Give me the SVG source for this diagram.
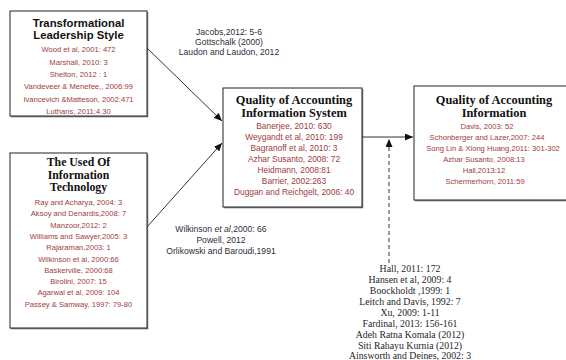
<svg xmlns="http://www.w3.org/2000/svg" width="566" height="360" viewBox="0 0 566 360">
<style>
.box{fill:#fff;stroke:#222;stroke-width:1}
.sh{fill:none;stroke:#555;stroke-width:1.2}
.ts{font-family:"Liberation Sans",Arial,sans-serif;font-weight:bold;font-size:11.3px;fill:#111;text-anchor:middle}
.tt{font-family:"Liberation Serif","Times New Roman",serif;font-weight:bold;font-size:12.4px;fill:#111;text-anchor:middle}
.t2{font-family:"Liberation Serif","Times New Roman",serif;font-weight:bold;font-size:11.8px;fill:#111;text-anchor:middle}
.r{font-family:"Liberation Sans",Arial,sans-serif;font-size:7.6px;fill:#9e3b3b;text-anchor:middle}
.r2{font-family:"Liberation Sans",Arial,sans-serif;font-size:8.4px;fill:#9e3b3b;text-anchor:middle}
.k{font-family:"Liberation Sans",Arial,sans-serif;font-size:8.6px;fill:#2e2e3a;text-anchor:middle}
.s{font-family:"Liberation Serif","Times New Roman",serif;font-size:9.8px;fill:#1e1e2a;text-anchor:middle}
.c{stroke:#333;stroke-width:1;fill:none}
</style>
<defs>
<marker id="ah" markerUnits="userSpaceOnUse" markerWidth="9" markerHeight="7" refX="8" refY="3.5" orient="auto">
<path d="M0,0 L8,3.5 L0,7 z" fill="#111"/>
</marker>
</defs>
<g id="n1">
<rect class="box" x="10" y="11" width="137" height="105"/>
<path class="sh" d="M11,116.6 H147.6 V12"/>
<text class="ts" x="78.5" y="27">Transformational</text>
<text class="ts" x="78.5" y="39">Leadership Style</text>
<text class="r" x="78.5" y="52">Wood et al, 2001: 472</text>
<text class="r" x="78.5" y="64.5">Marshall, 2010: 3</text>
<text class="r" x="78.5" y="77">Shelton, 2012 : 1</text>
<text class="r" x="78.5" y="89">Vandeveer &amp; Menefee,, 2006:99</text>
<text class="r" x="78.5" y="101.5">Ivancevich  &amp;Matteson, 2002:471</text>
<text class="r" x="78.5" y="113.5">Luthans, 2011:4 30</text>
</g>
<g id="n2">
<rect class="box" x="10" y="153" width="137" height="175"/>
<path class="sh" d="M11,328.6 H147.6 V154"/>
<text class="t2" x="78.5" y="166">The Used Of</text>
<text class="t2" x="78.5" y="178.5">Information</text>
<text class="t2" x="78.5" y="190.5">Technology</text>
<text class="r" x="78.5" y="205">Ray and Acharya, 2004: 3</text>
<text class="r" x="78.5" y="216.3">Aksoy and Denardis,2008: 7</text>
<text class="r" x="78.5" y="227.6">Manzoor,2012: 2</text>
<text class="r" x="78.5" y="238.9">Williams and Sawyer,2005: 3</text>
<text class="r" x="78.5" y="250.2">Rajaraman,2003: 1</text>
<text class="r" x="78.5" y="261.5">Wilkinson et al, 2000:66</text>
<text class="r" x="78.5" y="272.8">Baskerville, 2000:68</text>
<text class="r" x="78.5" y="284.1">Birolini, 2007: 15</text>
<text class="r" x="78.5" y="295.4">Agarwal et al, 2009: 104</text>
<text class="r" x="78.5" y="306.7">Passey &amp; Samway, 1997: 79-80</text>
</g>
<g id="n3">
<rect class="box" x="223" y="88" width="139" height="119"/>
<path class="sh" d="M224,207.6 H362.6 V89"/>
<text class="tt" x="294" y="104">Quality of Accounting</text>
<text class="tt" x="294" y="117">Information System</text>
<text class="r2" x="294" y="129">Banerjee, 2010: 630</text>
<text class="r2" x="294" y="140">Weygandt et al, 2010: 199</text>
<text class="r2" x="294" y="151">Bagranoff et al, 2010: 3</text>
<text class="r2" x="294" y="162">Azhar Susanto, 2008: 72</text>
<text class="r2" x="294" y="173">Heidmann, 2008:81</text>
<text class="r2" x="294" y="184">Barrier, 2002:263</text>
<text class="r2" x="294" y="195">Duggan and Reichgelt, 2006: 40</text>
</g>
<g id="n4">
<rect class="box" x="414" y="86" width="160" height="114"/>
<path class="sh" d="M415,200.6 H575"/>
<text class="tt" x="494" y="104">Quality of Accounting</text>
<text class="tt" x="494" y="117">Information</text>
<text class="r" x="487" y="129">Davis, 2003: 52</text>
<text class="r" x="487" y="140">Schonberger and Lazer,2007: 244</text>
<text class="r" x="493" y="151">Song Lin &amp; Xiong Huang,2011: 301-302</text>
<text class="r" x="484" y="162">Azhar Susanto, 2008:13</text>
<text class="r" x="484" y="173">Hall,2013:12</text>
<text class="r" x="485" y="184">Schermerhorn, 2011:59</text>
</g>
<g id="connectors">
<line class="c" x1="147" y1="48" x2="222" y2="121" marker-end="url(#ah)"/>
<line class="c" x1="147" y1="227" x2="222" y2="143" marker-end="url(#ah)"/>
<line class="c" x1="362" y1="137" x2="413" y2="137" marker-end="url(#ah)"/>
<line class="c" x1="389" y1="263" x2="389" y2="139" stroke-dasharray="4,3" marker-end="url(#ah)"/>
</g>
<g id="labels">
<text class="k" x="229" y="35">Jacobs,2012: 5-6</text>
<text class="k" x="229" y="45">Gottschalk (2000)</text>
<text class="k" x="229" y="55">Laudon and Laudon, 2012</text>
<text class="k" x="221" y="232">Wilkinson <tspan font-style="italic">et al</tspan>,2000: 66</text>
<text class="k" x="221" y="243">Powell, 2012</text>
<text class="k" x="221" y="254">Orlikowski and Baroudi,1991</text>
<text class="s" x="410" y="271.5">Hall, 2011: 172</text>
<text class="s" x="410" y="282.5">Hansen et al, 2009: 4</text>
<text class="s" x="410" y="293.5">Boockholdt ,1999: 1</text>
<text class="s" x="410" y="304.5">Leitch and Davis, 1992: 7</text>
<text class="s" x="410" y="315.5">Xu, 2009: 1-11</text>
<text class="s" x="410" y="326.5">Fardinal, 2013: 156-161</text>
<text class="s" x="410" y="337.5">Adeh Ratna Komala (2012)</text>
<text class="s" x="410" y="348.5">Siti Rahayu Kurnia (2012)</text>
<text class="s" x="410" y="359">Ainsworth and Deines, 2002: 3</text>
</g>
</svg>
